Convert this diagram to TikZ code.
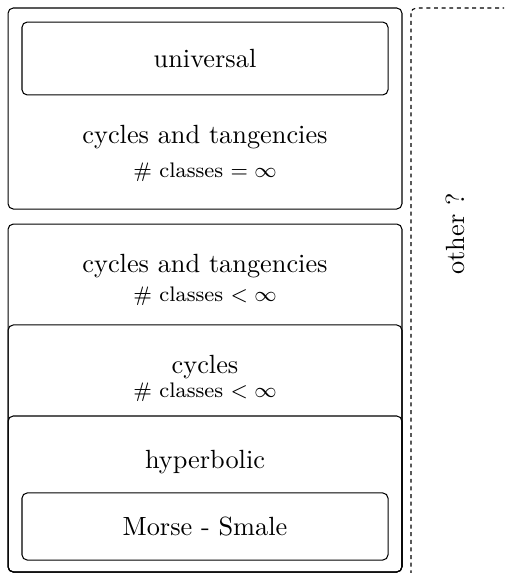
\documentclass[tikz,border=0pt]{standalone}
\usepackage{amsmath}
\usepackage{amssymb}
\usepackage{tikz}
\usetikzlibrary{positioning}

\tikzset{
  box/.style={draw, rounded corners=2pt, inner sep=0pt, outer sep=0pt},
  otherbox/.style={draw, dash pattern=on 1.5pt off 1.4pt, rounded corners=2pt},
  txt/.style={inner sep=0pt, anchor=base},
}

\begin{document}
\begin{tikzpicture}[x=0.38pt, y=-0.38pt]

  % Frame
  \useasboundingbox (0,0) rectangle (504,573);
  \clip (0,0) rectangle (504,573);

  % Define boxes
  \node[box, minimum width=149.7pt, minimum height=76.4pt] (infty) at (205,108.5) {};
  \node[box, minimum width=139.1pt, minimum height=27.7pt] (univ) at (205,58.5) {universal};
  \node[box, minimum width=149.7pt, minimum height=132.2pt] (finite) at (205,398) {};
  \node[box, minimum width=149.7pt, minimum height=93.9pt] (cyc) at (205,448.5) {};
  \node[box, minimum width=149.7pt, minimum height=59.3pt] (hyp) at (205,494) {};
  \node[box, minimum width=139.1pt, minimum height=25.5pt] (ms) at (205,526.5) {Morse - Smale};

  % Labels
  \node[txt] (infty-a) at (205,143) {cycles and tangencies};
  \node[txt] (infty-b) at (205,177) {\footnotesize \# classes $=\infty$};
  \node[txt] (finite-a) at (205,272) {cycles and tangencies};
  \node[txt] (finite-b) at (205,301) {\footnotesize \# classes $<\infty$};
  \node[txt] (cyc-a) at (205,373) {cycles};
  \node[txt] (cyc-b) at (205,397) {\footnotesize \# classes $<\infty$};
  \node[txt] (hyp-a) at (205,468) {hyperbolic};

  % Other
  \draw[otherbox] (411,8) rectangle (560,600);
  \node[rotate=90, inner sep=0pt] (other) at (455,234) {other ?};

\end{tikzpicture}
\end{document}
